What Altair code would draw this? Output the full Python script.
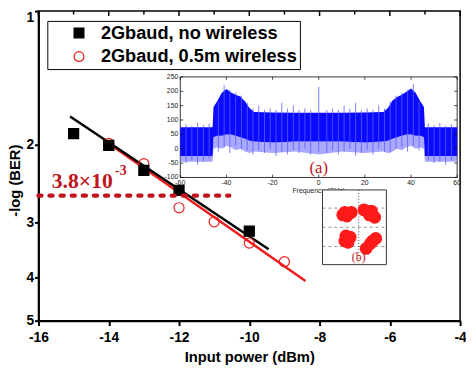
import altair as alt
import pandas as pd

# ---------------- main data ----------------
series = ["2Gbaud, no wireless", "2Gbaud, 0.5m wireless"]
nw_x = [-15, -14, -13, -12, -10]
nw_y = [1.89, 2.01, 2.29, 2.54, 3.14]
w_x = [-14, -13, -12, -11, -10, -9]
w_y = [1.99, 2.21, 2.78, 2.99, 3.34, 3.68]
fit_nw_x = [-15.1, -9.45]
fit_nw_y = [1.73, 3.45]
fit_w_x = [-14.0, -8.4]
fit_w_y = [1.99, 4.07]
thr_x = [-16.0, -10.57]
thr_y = 2.61
ann_x = [-15.62, -13.82]
ann_y = [2.51, 2.34]
ann_text = ["3.8×10", "-3"]
x_ticks = list(range(-16, -3))
y_ticks = [1, 2, 3, 4, 5]

# ---------------- inset (a): spectrum ----------------
spec_f = [-60, -46, -45.6, -44, -42, -40, -38, -36, -34, -32, -30, -28, -20, -10, 0,
          10, 20, 28, 30, 32, 34, 36, 38, 40, 42, 44, 45.6, 46, 60]
spec_hi = [75, 75, 145, 165, 195, 208, 196, 188, 182, 165, 142, 128, 126, 125, 125,
           125, 126, 128, 142, 168, 180, 188, 198, 210, 195, 165, 145, 75, 75]
spec_lo = [-25, -25, 40, 45, 45, 50, 50, 45, 40, 35, 28, 25, 22, 25, 25,
           25, 22, 25, 28, 35, 40, 45, 50, 50, 45, 45, 40, -25, -25]
spec_lo2 = [-45, -45, 0, 5, 0, 10, 5, -5, 0, -10, -15, -10, -15, -10, -20,
            -10, -15, -10, -15, -10, 0, -5, 5, 10, 0, 5, 0, -45, -45]
spike_f = [-57.5, -55, -52.5, -50, -47.5, -43.5, -41, -38.5, -36, -33.5, -31, -28.5,
           -26, -23.5, -21, -18.5, -16, -13.5, -11, -8.5, -6, -3.5, 0, 3.5, 6, 8.5,
           11, 13.5, 16, 18.5, 21, 23.5, 26, 28.5, 31, 33.5, 36, 38.5, 41, 43.5,
           47.5, 50, 52.5, 55, 57.5]
spike_top = [85, 80, 90, 82, 88, 165, 222, 205, 195, 185, 160, 140,
             150, 135, 140, 135, 160, 140, 150, 135, 140, 135, 215, 135, 140, 135,
             150, 140, 160, 135, 140, 135, 150, 140, 165, 185, 195, 205, 225, 165,
             88, 82, 90, 80, 85]
spike_bot = [-50, -40, -55, -45, -35, -10, 5, -15, 10, 0, -5, -20,
             -5, -15, 0, -25, -10, -20, -5, -15, 0, -20, -10, -15, -5, -20,
             -10, 0, -25, -15, -5, -20, 0, -10, -15, 0, 5, -10, 10, -5,
             -40, -50, -45, -55, -40]
fx_ticks = [-60, -40, -20, 0, 20, 40, 60]
fy_ticks = [250, 200, 150, 100, 50, 0, -50, -100]

# ---------------- inset (b): constellation ----------------
blob_x = [-0.45, -0.15, -0.35, -0.55,
          0.45, 0.8, 0.95, 0.7,
          -0.4, -0.3, -0.45, -0.2,
          1.0, 0.75, 0.55, 0.85]
blob_y = [0.6, 0.6, 0.45, 0.5,
          0.7, 0.65, 0.4, 0.5,
          -0.35, -0.6, -0.55, -0.4,
          -0.45, -0.65, -0.85, -0.55]
grid_h = [0.77, 0.0, -0.77]
grid_v = [0.2]

RED = "#ee1c1c"
DARK_RED = "#c0141c"
BLUE = "#0a0aff"
SANS = "Liberation Sans"
SERIF = "Liberation Serif"

# ---------------- main layers ----------------
xs = alt.Scale(domain=[-16, -4], nice=False, zero=False)
ys = alt.Scale(type="log", domain=[1, 5], reverse=True, nice=False)

pts = pd.DataFrame({
    "x": w_x + nw_x,
    "y": w_y + nw_y,
    "s": [series[1]] * len(w_x) + [series[0]] * len(nw_x),
})

points = alt.Chart(pts).mark_point(size=105, strokeWidth=1.2, opacity=1).encode(
    x=alt.X("x:Q", scale=xs, axis=alt.Axis(
        title="Input power (dBm)", values=x_ticks,
        labelExpr="datum.value % 2 == 0 ? '' + datum.value : ''",
        labelFlush=False, labelOverlap=False, grid=False)),
    y=alt.Y("y:Q", scale=ys, axis=alt.Axis(
        title="-log (BER)", values=y_ticks, labelExpr="'' + datum.value", grid=False,
        labelBaseline={"condition": {"test": "datum.value == 1", "value": "top"}, "value": "middle"},
        titleY=172)),
    color=alt.Color("s:N", scale=alt.Scale(domain=series, range=["black", RED]),
                    legend=alt.Legend(title=None)),
    shape=alt.Shape("s:N", scale=alt.Scale(domain=series, range=["square", "circle"]),
                    legend=alt.Legend(title=None)),
    fill=alt.Fill("s:N", scale=alt.Scale(domain=series, range=["black", "transparent"]),
                  legend=alt.Legend(title=None)),
)

# inward ticks along the top frame
top_t = pd.DataFrame({"x": x_ticks, "y": [1.0] * len(x_ticks),
                      "y2": [1.026 if v % 2 == 0 else 1.018 for v in x_ticks]})
top_ticks = alt.Chart(top_t).mark_rule(color="black", strokeWidth=1.5).encode(
    x=alt.X("x:Q", scale=xs), y=alt.Y("y:Q", scale=ys), y2="y2:Q")

fit_nw = alt.Chart(pd.DataFrame({"x": fit_nw_x, "y": fit_nw_y})).mark_line(
    color="black", strokeWidth=2.5).encode(x=alt.X("x:Q", scale=xs), y=alt.Y("y:Q", scale=ys))
fit_w = alt.Chart(pd.DataFrame({"x": fit_w_x, "y": fit_w_y})).mark_line(
    color=RED, strokeWidth=2.5).encode(x=alt.X("x:Q", scale=xs), y=alt.Y("y:Q", scale=ys))

thr = alt.Chart(pd.DataFrame({"x": [thr_x[0]], "x2": [thr_x[1]], "y": [thr_y]})).mark_rule(
    color=DARK_RED, strokeWidth=4.5, strokeDash=[3, 8.3], strokeCap="round").encode(
    x=alt.X("x:Q", scale=xs), x2="x2:Q", y=alt.Y("y:Q", scale=ys))

ann_main = alt.Chart(pd.DataFrame({"x": [ann_x[0]], "y": [ann_y[0]], "t": [ann_text[0]]})).mark_text(
    font=SERIF, fontWeight="bold", fontSize=22, color=DARK_RED, align="left",
    baseline="alphabetic").encode(x=alt.X("x:Q", scale=xs), y=alt.Y("y:Q", scale=ys), text="t:N")
ann_sup = alt.Chart(pd.DataFrame({"x": [ann_x[1]], "y": [ann_y[1]], "t": [ann_text[1]]})).mark_text(
    font=SERIF, fontWeight="bold", fontSize=14, color=DARK_RED, align="left",
    baseline="alphabetic").encode(x=alt.X("x:Q", scale=xs), y=alt.Y("y:Q", scale=ys), text="t:N")

main = alt.layer(top_ticks, fit_w, fit_nw, points, thr, ann_main, ann_sup)

# ---------------- inset (a) ----------------
ax = alt.Scale(domain=[-60, 60], range=[144.3, 426], nice=False, zero=False)
ay = alt.Scale(domain=[-100, 250], range=[169.3, 67], nice=False, zero=False)
TX = 1.3   # tick length in freq units
TY = 10.0  # tick length in power units

frame_a = alt.Chart(pd.DataFrame({"x": [-60], "x2": [60], "y": [-100], "y2": [250]})).mark_rect(
    fill="white", stroke="black", strokeWidth=0.8).encode(
    x=alt.X("x:Q", scale=ax, axis=None), x2="x2:Q", y=alt.Y("y:Q", scale=ay, axis=None), y2="y2:Q")

spec = pd.DataFrame({"f": spec_f, "hi": spec_hi, "lo": spec_lo, "lo2": spec_lo2})
area_light = alt.Chart(spec).mark_area(color="#7070ff", opacity=0.6).encode(
    x=alt.X("f:Q", scale=ax, axis=None), y=alt.Y("lo:Q", scale=ay, axis=None), y2="lo2:Q")
area_dark = alt.Chart(spec).mark_area(color=BLUE, opacity=1).encode(
    x=alt.X("f:Q", scale=ax, axis=None), y=alt.Y("hi:Q", scale=ay, axis=None), y2="lo:Q")
spikes = alt.Chart(pd.DataFrame({"f": spike_f, "t": spike_top, "b": spike_bot})).mark_rule(
    color="#5a5aff", strokeWidth=0.8).encode(
    x=alt.X("f:Q", scale=ax, axis=None), y=alt.Y("t:Q", scale=ay, axis=None), y2="b:Q")

xt = pd.DataFrame({"v": fx_ticks, "b": [-100] * len(fx_ticks), "b2": [-100 + TY] * len(fx_ticks),
                   "t": [250] * len(fx_ticks), "t2": [250 - TY] * len(fx_ticks),
                   "lab": [str(v) for v in fx_ticks]})
yt = pd.DataFrame({"v": fy_ticks, "l": [-60] * len(fy_ticks), "l2": [-60 + TX] * len(fy_ticks),
                   "r": [60] * len(fy_ticks), "r2": [60 - TX] * len(fy_ticks),
                   "lab": [str(v) for v in fy_ticks]})
tick_b = alt.Chart(xt).mark_rule(color="black", strokeWidth=0.7).encode(
    x=alt.X("v:Q", scale=ax, axis=None), y=alt.Y("b:Q", scale=ay, axis=None), y2="b2:Q")
tick_t = alt.Chart(xt).mark_rule(color="black", strokeWidth=0.7).encode(
    x=alt.X("v:Q", scale=ax, axis=None), y=alt.Y("t:Q", scale=ay, axis=None), y2="t2:Q")
tick_l = alt.Chart(yt).mark_rule(color="black", strokeWidth=0.7).encode(
    x=alt.X("l:Q", scale=ax, axis=None), x2="l2:Q", y=alt.Y("v:Q", scale=ay, axis=None))
tick_r = alt.Chart(yt).mark_rule(color="black", strokeWidth=0.7).encode(
    x=alt.X("r:Q", scale=ax, axis=None), x2="r2:Q", y=alt.Y("v:Q", scale=ay, axis=None))
lab_x = alt.Chart(xt).mark_text(font=SANS, fontSize=7, color="#222", baseline="top", dy=2).encode(
    x=alt.X("v:Q", scale=ax, axis=None), y=alt.Y("b:Q", scale=ay, axis=None), text="lab:N")
lab_y = alt.Chart(yt).mark_text(font=SANS, fontSize=7, color="#222", align="right",
                                baseline="middle", dx=-2).encode(
    x=alt.X("l:Q", scale=ax, axis=None), y=alt.Y("v:Q", scale=ay, axis=None), text="lab:N")
ttl_a = alt.Chart(pd.DataFrame({"x": [0], "y": [-100], "t": ["Frequency (GHz)"]})).mark_text(
    font=SANS, fontSize=7, color="#222", baseline="top", dy=10).encode(
    x=alt.X("x:Q", scale=ax, axis=None), y=alt.Y("y:Q", scale=ay, axis=None), text="t:N")
lbl_a = alt.Chart(pd.DataFrame({"x": [0], "y": [-66], "t": ["(a)"]})).mark_text(
    font=SERIF, fontSize=17, color=DARK_RED, baseline="middle").encode(
    x=alt.X("x:Q", scale=ax, axis=None), y=alt.Y("y:Q", scale=ay, axis=None), text="t:N")

inset_a = alt.layer(frame_a, area_light, area_dark, spikes, tick_b, tick_t, tick_l, tick_r,
                    lab_x, lab_y, ttl_a, lbl_a)

# ---------------- inset (b) ----------------
bx = alt.Scale(domain=[-1.5, 1.5], range=[289, 354], nice=False, zero=False)
by = alt.Scale(domain=[-1.5, 1.5], range=[258, 182], nice=False, zero=False)

frame_b = alt.Chart(pd.DataFrame({"x": [-1.5], "x2": [1.5], "y": [-1.5], "y2": [1.5]})).mark_rect(
    fill="white", stroke="#333", strokeWidth=1).encode(
    x=alt.X("x:Q", scale=bx, axis=None), x2="x2:Q", y=alt.Y("y:Q", scale=by, axis=None), y2="y2:Q")
gh = alt.Chart(pd.DataFrame({"y": grid_h, "x": [-1.5] * 3, "x2": [1.5] * 3})).mark_rule(
    color="#777", strokeWidth=0.8, strokeDash=[3, 3]).encode(
    x=alt.X("x:Q", scale=bx, axis=None), x2="x2:Q", y=alt.Y("y:Q", scale=by, axis=None))
gv = alt.Chart(pd.DataFrame({"x": grid_v, "y": [-1.5], "y2": [1.5]})).mark_rule(
    color="#222", strokeWidth=0.8, strokeDash=[1, 2]).encode(
    x=alt.X("x:Q", scale=bx, axis=None), y=alt.Y("y:Q", scale=by, axis=None), y2="y2:Q")
blobs = alt.Chart(pd.DataFrame({"x": blob_x, "y": blob_y})).mark_circle(
    size=170, color="#ff1a1a", opacity=1).encode(
    x=alt.X("x:Q", scale=bx, axis=None), y=alt.Y("y:Q", scale=by, axis=None))
lbl_b = alt.Chart(pd.DataFrame({"x": [0.2], "y": [-1.18], "t": ["(b)"]})).mark_text(
    font=SERIF, fontSize=12, color=DARK_RED, baseline="middle").encode(
    x=alt.X("x:Q", scale=bx, axis=None), y=alt.Y("y:Q", scale=by, axis=None), text="t:N")

inset_b = alt.layer(frame_b, gh, gv, blobs, lbl_b)

chart = alt.layer(main, inset_a, inset_b).resolve_scale(
    x="independent", y="independent"
).properties(
    width=429, height=315,
    autosize=alt.AutoSizeParams(type="none"),
    padding={"left": 31, "top": 0, "right": 6, "bottom": 43},
).configure_view(
    stroke="black", strokeWidth=1.5
).configure_axis(
    domainColor="black", domainWidth=2, tickColor="black", tickWidth=2, tickSize=5,
    labelFont=SANS, labelFontWeight="bold", labelFontSize=14, labelColor="black",
    titleFont=SANS, titleFontWeight="bold", titleFontSize=15, titleColor="black",
).configure_axisX(
    labelPadding=5, titlePadding=6
).configure_axisY(
    tickSize=4, labelPadding=1, titlePadding=3
).configure_legend(
    orient="none", legendX=9, legendY=10, strokeColor="black", fillColor="white",
    padding=3, symbolOffset=20, labelOffset=13, labelFont=SANS, labelFontWeight="bold",
    labelFontSize=18.5, labelColor="black", symbolSize=100, symbolStrokeWidth=1.2,
    rowPadding=5, labelLimit=400,
)

chart.save("out.html", embed_options={"renderer": "svg", "actions": False})
